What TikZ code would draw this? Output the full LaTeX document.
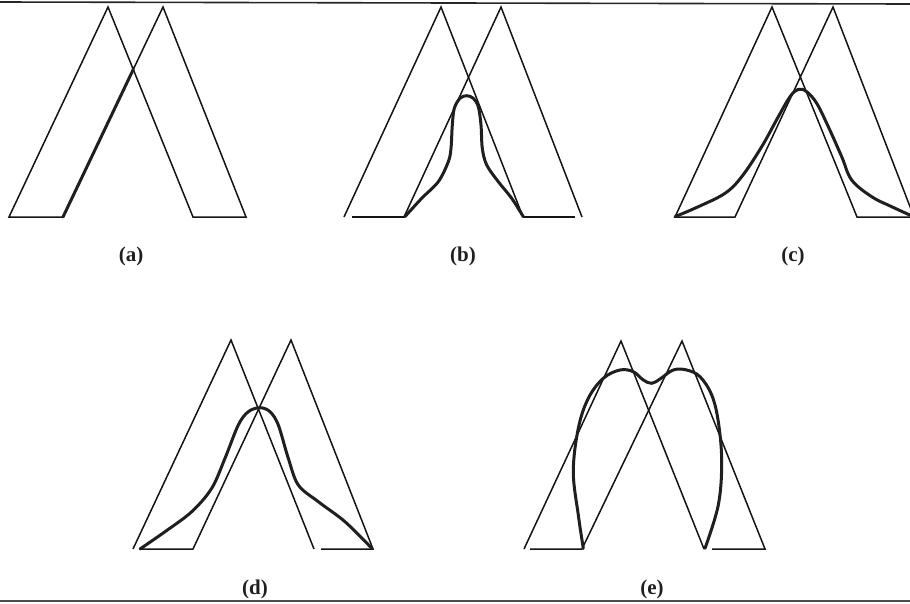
\documentclass[tikz,border=0pt]{standalone}
\usepackage{fontspec}
\setmainfont{Liberation Serif}
\begin{document}
\begin{tikzpicture}[x=1pt,y=-1pt,
  thinline/.style={line width=1.5pt,color=black!92,line join=miter},
  thickline/.style={line width=3pt,color=black!88,line cap=round,line join=round},
  rule/.style={line width=1.6pt,color=black!70},
  caption/.style={font=\fontsize{21}{23}\selectfont\bfseries,inner sep=0pt,text=black!88}]
\useasboundingbox (0,0) rectangle (910,603);
\begin{scope}
\clip (0,0) rectangle (910,603);
% frame rules
\coordinate (t1) at (0,2); \coordinate (t2) at (910,4);
\coordinate (b1) at (0,601); \coordinate (b2) at (910,601);
\draw[rule,color=black!85] (t1) -- (t2);
\draw[rule] (b1) -- (b2);

% ---------- panel (a)
\coordinate (aA1) at (108,7); \coordinate (aA2) at (163,7);
\coordinate (aL1) at (9,217); \coordinate (aR1) at (193,217);
\coordinate (aL2) at (63,217); \coordinate (aR2) at (246,217);
\draw[thinline] (aL2) -- (aL1) -- (aA1) -- (aR1) -- (aR2) -- (aA2) -- cycle;
\draw[thickline] (aL2) -- (133.3,69.4);
\node[caption] (capa) at (131,256) {(a)};

% ---------- panel (b)
\coordinate (bA1) at (441,7); \coordinate (bA2) at (501,7);
\coordinate (bL1) at (344,217); \coordinate (bR1) at (523,217);
\coordinate (bL2) at (404,217); \coordinate (bR2) at (582,217);
\draw[thinline] (bL1) -- (bA1) -- (bR1);
\draw[thinline] (bL2) -- (bA2) -- (bR2);
\draw[thinline] (352,217) -- (bL2);
\draw[thinline] (bR1) -- (575,217);
\draw[thickline] plot[smooth,tension=0.55] coordinates {
 (404.9,216.7) (421.7,198.3) (438.3,181.7) (448.3,161.7) (451,148.3) (452.3,125)
 (454.3,108.3) (460,98.3) (466.7,95.7) (473.3,98.3) (478.3,106.7) (481,125)
 (482.3,148.3) (486.7,165) (498.3,181.7) (511.7,198.3) (523.3,216.7)};
\node[caption] (capb) at (463,256) {(b)};

% ---------- panel (c)
\coordinate (cA1) at (772,7); \coordinate (cA2) at (833,7);
\coordinate (cL1) at (675,217); \coordinate (cR1) at (857,217);
\coordinate (cL2) at (735,217); \coordinate (cR2) at (914,217);
\draw[thinline] (cL2) -- (cL1) -- (cA1) -- (cR1) -- (cR2) -- (cA2) -- cycle;
\draw[thickline] plot[smooth,tension=0.6] coordinates {
 (675,216.7) (698.3,206.7) (725,193.3) (741.7,176.7) (761.7,146.7) (778.3,116.7)
 (790,96.7) (798.3,89.3) (806.7,91.7) (816.7,103.3) (828.3,126.7) (841.7,156.7)
 (851.7,180) (871.7,196.7) (891.7,206.7) (912,216)};
\node[caption] (capc) at (793,256) {(c)};

% ---------- panel (d)
\coordinate (dA1) at (231,340); \coordinate (dA2) at (291,340);
\coordinate (dL1) at (133,549); \coordinate (dR1) at (314,549);
\coordinate (dL2) at (193,549); \coordinate (dR2) at (373,549);
\draw[thinline] (dL1) -- (dA1) -- (dR1);
\draw[thinline] (140,549) -- (dL2) -- (dA2) -- (dR2) -- (321,549);
\draw[thickline] plot[smooth,tension=0.55] coordinates {
 (140,549) (165,531.7) (191.7,511.7) (211.7,488.3) (225,458.3) (238.3,425)
 (248.3,411.7) (260,407.7) (270,411.7) (278.3,425) (288.3,458.3) (298.3,485)
 (318.3,501.7) (345,521.7) (372,548.5)};
\node[caption] (capd) at (255,589) {(d)};

% ---------- panel (e)
\coordinate (eA1) at (621,341); \coordinate (eA2) at (682,341);
\coordinate (eL1) at (524,549); \coordinate (eR1) at (704,549);
\coordinate (eL2) at (582,549); \coordinate (eR2) at (765,549);
\draw[thinline] (eL1) -- (eA1) -- (eR1);
\draw[thinline] (530,549) -- (eL2) -- (eA2) -- (eR2) -- (712,549);
\draw[thickline] plot[smooth,tension=0.6] coordinates {
 (583.3,548.3) (578.3,515) (573.3,471.7) (578.3,428.3) (588.3,398.3) (603.3,378.3)
 (620,370) (633.3,371.7) (643.3,380) (651.7,383.3) (660,379) (673.3,370)
 (686.7,370) (700,376.7) (711.7,395) (718.3,421.7) (721.7,461.7) (718.3,505)
 (705,548.3)};
\node[caption] (cape) at (652,589) {(e)};
\end{scope}
\end{tikzpicture}
\end{document}
